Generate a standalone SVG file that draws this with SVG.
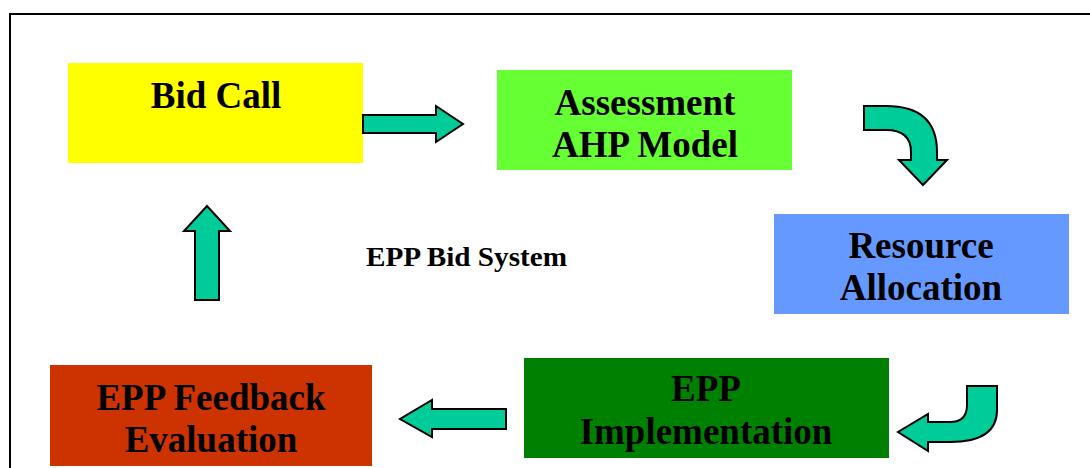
<svg xmlns="http://www.w3.org/2000/svg" width="1090" height="468" viewBox="0 0 1090 468">
<style>
.box-text{font-family:"Liberation Serif","Times New Roman",serif;font-weight:bold;font-size:37px;fill:#000;text-anchor:middle}
.label{font-family:"Liberation Serif","Times New Roman",serif;font-weight:bold;font-size:28px;fill:#000}
.arrow{fill:#00CC99;stroke:#000;stroke-width:2;stroke-linejoin:miter}
</style>
<rect x="0" y="0" width="1090" height="468" fill="#fff"/>
<rect x="10" y="14" width="1100" height="500" fill="none" stroke="#000" stroke-width="2"/>
<g id="bid-call">
<rect x="68" y="63" width="295" height="100" fill="#FFFF00"/>
<text class="box-text" x="216" y="108">Bid Call</text>
</g>
<g id="assessment">
<rect x="497" y="70" width="295" height="100" fill="#66FF33"/>
<text class="box-text" x="645" y="115">Assessment</text>
<text class="box-text" x="645" y="157">AHP Model</text>
</g>
<g id="resource">
<rect x="774" y="214" width="295" height="100" fill="#6699FF"/>
<text class="box-text" x="921" y="258">Resource</text>
<text class="box-text" x="921" y="300">Allocation</text>
</g>
<g id="implementation">
<rect x="524" y="358" width="365" height="100" fill="#008000"/>
<text class="box-text" x="706" y="401">EPP</text>
<text class="box-text" x="706" y="444">Implementation</text>
</g>
<g id="feedback">
<rect x="50" y="365" width="322" height="101" fill="#CC3300"/>
<text class="box-text" x="211" y="410">EPP Feedback</text>
<text class="box-text" x="211" y="452">Evaluation</text>
</g>
<text class="label" x="366" y="266" textLength="201" lengthAdjust="spacingAndGlyphs">EPP Bid System</text>
<g id="connectors">
<path class="arrow" d="M363 115 L436 115 L436 106 L463 124 L436 142 L436 133 L363 133 Z"/>
<path class="arrow" d="M864 106 L886 106 Q937 106 937 152 L937 160 L947 160 L923 185 L899 160 L911 160 L911 152 Q911 130 886 130 L864 130 Z"/>
<path class="arrow" d="M967 386 L997 386 L997 410 Q997 442 950 442 L928 442 L928 451 L898 432 L928 414 L928 422 L950 422 Q967 422 967 405 Z"/>
<path class="arrow" d="M506 409 L432 409 L432 400 L400 419 L432 437 L432 429 L506 429 Z"/>
<path class="arrow" d="M195 300 L195 231 L184 231 L207 206 L230 231 L219 231 L219 300 Z"/>
</g>
</svg>
